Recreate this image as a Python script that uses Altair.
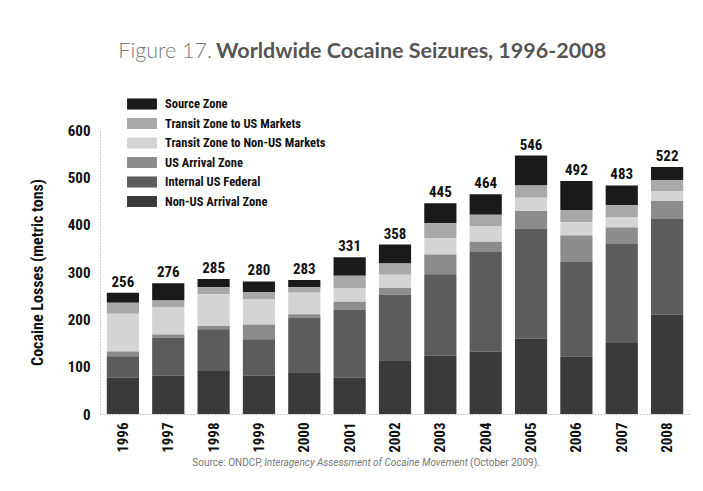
import altair as alt
import pandas as pd

years = ["1996", "1997", "1998", "1999", "2000", "2001", "2002",
         "2003", "2004", "2005", "2006", "2007", "2008"]
totals = [256, 276, 285, 280, 283, 331, 358, 445, 464, 546, 492, 483, 522]

series = ["Source Zone", "Transit Zone to US Markets", "Transit Zone to Non-US Markets",
          "US Arrival Zone", "Internal US Federal", "Non-US Arrival Zone"]
colors = ["#1a1a1a", "#a8a8a8", "#d4d4d4", "#8c8c8c", "#5c5c5c", "#3a3a3a"]

source_zone = [21, 36, 17, 22, 15, 39, 40, 42, 43, 63, 61, 42, 28]
transit_us = [23, 15, 15, 16, 12, 27, 24, 31, 24, 26, 26, 26, 23]
transit_non_us = [80, 57, 67, 53, 45, 28, 28, 35, 33, 28, 28, 21, 21]
us_arrival = [10, 7, 7, 31, 7, 17, 14, 42, 22, 37, 55, 35, 38]
internal_us = [45, 80, 88, 77, 116, 143, 140, 172, 210, 233, 201, 209, 202]
non_us_arrival = [77, 81, 91, 81, 88, 77, 112, 123, 132, 159, 121, 150, 210]

y_ticks = [0, 100, 200, 300, 400, 500, 600]
y_title = "Cocaine Losses (metric tons)"
title_light = ["Figure 17."]
title_bold = ["Worldwide Cocaine Seizures, 1996-2008"]
source_a = ["Source: ONDCP,"]
source_b = ["Interagency Assessment of Cocaine Movement"]
source_c = ["(October 2009)."]

COND = "Noto Sans ExtraCondensed, Noto Sans Condensed, Liberation Sans Narrow, Roboto Condensed, Roboto, sans-serif"
TFONT = "Lato, Open Sans, sans-serif"

all_vals = [source_zone, transit_us, transit_non_us, us_arrival, internal_us, non_us_arrival]
rows = []
for i, yr in enumerate(years):
    for k, (name, vals) in enumerate(zip(series, all_vals)):
        rows.append({"Year": yr, "Series": name, "Value": vals[i],
                     "Order": len(series) - 1 - k})
df = pd.DataFrame(rows)
tot = pd.DataFrame({"Year": years, "Total": totals})

xenc = alt.X("Year:N", sort=years,
             scale=alt.Scale(paddingInner=0.29, paddingOuter=0.15),
             axis=alt.Axis(title=None, labelAngle=-90, labelFont=COND, labelFontSize=15,
                           labelFontWeight="bold", labelColor="#111", labelPadding=8,
                           ticks=False, domainColor="#999", domainDash=[1, 2], grid=False))

bars = alt.Chart(df).mark_bar().encode(
    x=xenc,
    y=alt.Y("Value:Q", stack="zero",
            scale=alt.Scale(domain=[0, 600], nice=False),
            axis=alt.Axis(title=y_title, values=y_ticks, labelFont=COND, labelFontSize=15,
                          labelFontWeight="bold", labelColor="#111", labelPadding=10,
                          ticks=False, domainColor="#999", domainDash=[1, 2], grid=False,
                          titleFont=COND, titleFontSize=16, titleFontWeight="bold",
                          titleColor="#111", titlePadding=22)),
    color=alt.Color("Series:N", sort=series,
                    scale=alt.Scale(domain=series, range=colors),
                    legend=alt.Legend(orient="none", legendX=35.5, legendY=-32.5, title=None,
                                      symbolType="M-2.3,-0.85H2.3V0.85H-2.3Z", symbolSize=169,
                                      symbolStrokeWidth=0, symbolOpacity=1,
                                      labelFont=COND, labelFontSize=12.5, labelFontWeight="bold",
                                      labelColor="#111", labelOffset=16.5, rowPadding=6.5,
                                      labelLimit=400, padding=0)),
    order=alt.Order("Order:Q", sort="ascending"),
)

labels = alt.Chart(tot).mark_text(baseline="bottom", dy=-3, font=COND, fontSize=15,
                                  fontWeight="bold", color="#111").encode(
    x=alt.X("Year:N", sort=years),
    y=alt.Y("Total:Q"),
    text="Total:Q",
)

t1 = alt.Chart(pd.DataFrame({"t": title_light})).mark_text(
    align="right", baseline="middle", font=TFONT, fontSize=21.5, fontWeight=300, color="#777"
).encode(x=alt.value(112), y=alt.value(-78), text="t:N")
t2 = alt.Chart(pd.DataFrame({"t": title_bold})).mark_text(
    align="left", baseline="middle", font=TFONT, fontSize=21.5, fontWeight="bold", color="#555"
).encode(x=alt.value(116), y=alt.value(-78), text="t:N")

SFONT = "Roboto, sans-serif"
s1 = alt.Chart(pd.DataFrame({"t": source_a})).mark_text(
    align="right", baseline="middle", font=SFONT, fontSize=10, color="#777"
).encode(x=alt.value(162), y=alt.value(333), text="t:N")
s2 = alt.Chart(pd.DataFrame({"t": source_b})).mark_text(
    align="center", baseline="middle", font=SFONT, fontSize=10, fontStyle="italic", color="#777"
).encode(x=alt.value(266), y=alt.value(333), text="t:N")
s3 = alt.Chart(pd.DataFrame({"t": source_c})).mark_text(
    align="left", baseline="middle", font=SFONT, fontSize=10, color="#777"
).encode(x=alt.value(370), y=alt.value(333), text="t:N")

chart = alt.layer(bars, labels, t1, t2, s1, s2, s3).properties(
    width=590, height=284,
    autosize=alt.AutoSizeParams(type="none"),
    padding={"left": 92, "top": 122, "right": 4, "bottom": 69},
    background="white",
).configure_view(stroke=None)

chart.save("out.html", embed_options={"renderer": "svg", "actions": False})
